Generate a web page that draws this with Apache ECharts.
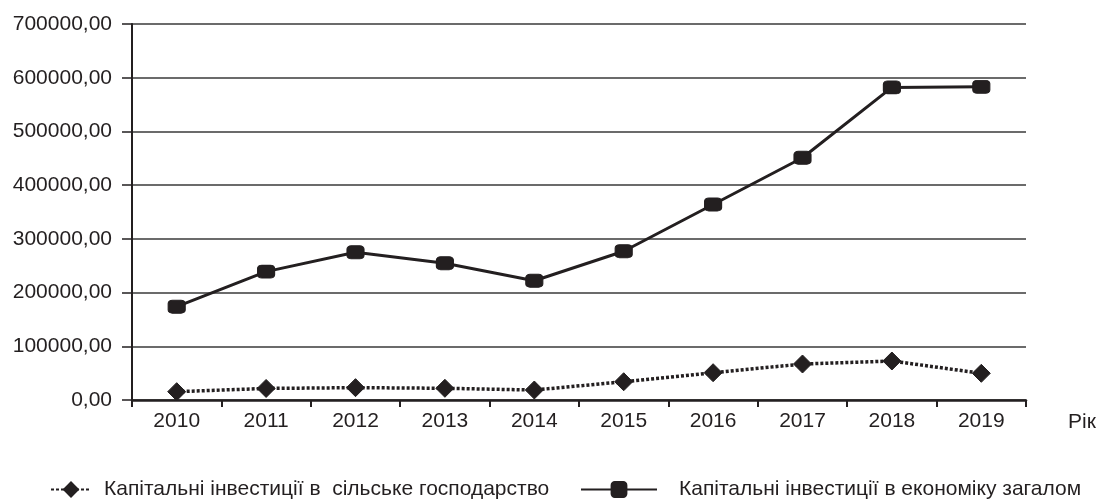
<!DOCTYPE html>
<html>
<head>
<meta charset="utf-8">
<script src="https://cdn.jsdelivr.net/npm/echarts@6/dist/echarts.min.js"></script>
<style>
html,body{margin:0;padding:0;background:#fff;}
#chart{width:1101px;height:499px;}
</style>
</head>
<body>
<div id="chart"></div>
<script>
const years = ['2010','2011','2012','2013','2014','2015','2016','2017','2018','2019'];
const agriInvest = [15500, 21500, 23000, 21800, 18600, 34000, 50800, 67000, 72600, 49700];
const totalInvest = [173700, 239000, 275000, 254600, 222000, 277000, 364000, 451000, 582000, 583000];
const agriName = 'Капітальні інвестиції в  сільське господарство';
const totalName = 'Капітальні інвестиції в економіку загалом';
const xAxisName = 'Рік';

const dark = '#231f20';
const font = 'Liberation Sans, Arial, sans-serif';

const chart = echarts.init(document.getElementById('chart'), null, {renderer: 'canvas'});
chart.setOption({
  animation: false,
  backgroundColor: '#ffffff',
  grid: {left: 132, right: 75, top: 24, bottom: 99, containLabel: false},
  legend: [
    {
      data: [agriName],
      left: 45, top: 474,
      itemWidth: 40, itemHeight: 21,
      textStyle: {fontFamily: font, fontSize: 21, color: dark, padding: [0, 0, 0, 8]}
    },
    {
      data: [totalName],
      left: 575, top: 474,
      itemWidth: 76, itemHeight: 21,
      textStyle: {fontFamily: font, fontSize: 21, color: dark, padding: [0, 0, 0, 17]}
    }
  ],
  xAxis: {
    type: 'category',
    data: years,
    boundaryGap: true,
    name: xAxisName,
    nameLocation: 'end',
    nameGap: 42,
    nameTextStyle: {fontFamily: font, fontSize: 21, color: dark, verticalAlign: 'top', padding: [12, 0, 0, 0]},
    axisLine: {show: true, lineStyle: {color: dark, width: 2.5}},
    axisTick: {show: true, length: 7, lineStyle: {color: dark, width: 2}},
    axisLabel: {fontFamily: font, fontSize: 21, color: dark, margin: 11},
    splitLine: {show: false}
  },
  yAxis: {
    type: 'value',
    min: 0, max: 700000, interval: 100000,
    axisLine: {show: true, lineStyle: {color: dark, width: 2}},
    axisTick: {show: true, length: 10, lineStyle: {color: dark, width: 1.5}},
    axisLabel: {
      fontFamily: font, fontSize: 21, color: dark, margin: 20,
      formatter: v => v.toFixed(2).replace('.', ',')
    },
    splitLine: {show: true, lineStyle: {color: '#3a3a3a', width: 1.5}}
  },
  series: [
    {
      name: agriName,
      type: 'line',
      data: agriInvest,
      symbol: 'diamond',
      symbolSize: [18, 18],
      itemStyle: {color: dark, borderColor: dark},
      lineStyle: {color: dark, width: 3.5, type: [3, 2], cap: 'butt'},
      z: 3
    },
    {
      name: totalName,
      type: 'line',
      data: totalInvest,
      symbol: 'roundRect',
      symbolSize: [17, 13],
      itemStyle: {color: dark, borderColor: dark},
      lineStyle: {color: dark, width: 3},
      z: 4
    }
  ]
});
</script>
</body>
</html>
